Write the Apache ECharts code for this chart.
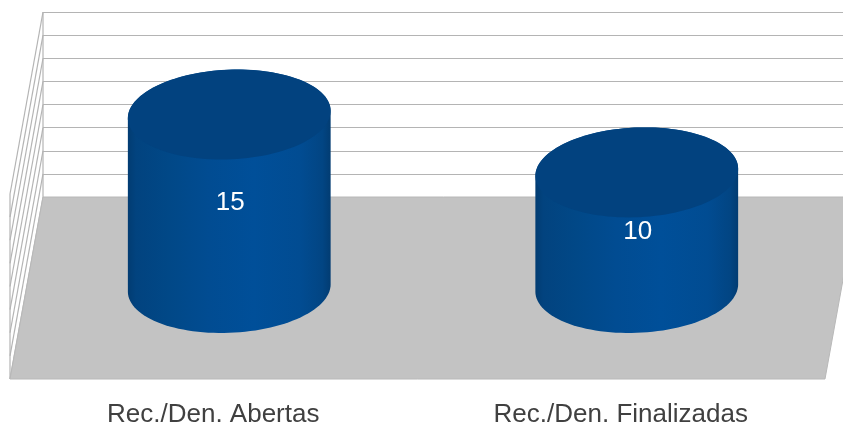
<!DOCTYPE html>
<html>
<head>
<meta charset="utf-8">
<script src="https://cdn.jsdelivr.net/npm/echarts@6/dist/echarts.min.js"></script>
<style>html,body{margin:0;padding:0;background:#fff}#c{width:843px;height:425px}</style>
</head>
<body>
<div id="c"></div>
<script>
const categories = ['Rec./Den. Abertas', 'Rec./Den. Finalizadas'];
const values = [15, 10];
const wallTicks = [0, 2, 4, 6, 8, 10, 12, 14, 16];

const DEPTH = [-33, 182];
const BAR_NUDGE = -1;
const RADIUS_RATIO = 0.248;
const RY = 45;
const GRID_COLOR = '#b4b4b4';
const FONT = '"Liberation Sans", Arial, sans-serif';
const chart = echarts.init(document.getElementById('c'), null, {renderer: 'canvas'});

function floorItem(params, api) {
  const cs = params.coordSys;
  const y = api.coord([0, 0])[1];
  return {
    type: 'polygon',
    shape: {points: [
      [cs.x, y], [cs.x + cs.width, y],
      [cs.x + cs.width + DEPTH[0], y + DEPTH[1]], [cs.x + DEPTH[0], y + DEPTH[1]]
    ]},
    style: {fill: '#c3c3c3', stroke: '#b8b8b8', lineWidth: 1}
  };
}

function wallItem(params, api) {
  const cs = params.coordSys;
  const v = api.value(0);
  const y = api.coord([0, v])[1];
  const children = [{
    type: 'line',
    shape: {x1: cs.x, y1: y, x2: cs.x + DEPTH[0], y2: y + DEPTH[1]},
    style: {stroke: GRID_COLOR, lineWidth: 1.2}
  }];
  if (v === 16) {
    children.push({
      type: 'line',
      shape: {x1: cs.x + DEPTH[0], y1: y + DEPTH[1], x2: cs.x + DEPTH[0], y2: cs.y + cs.height + DEPTH[1]},
      style: {stroke: GRID_COLOR, lineWidth: 1.2}
    });
    children.push({
      type: 'line',
      shape: {x1: cs.x, y1: cs.y, x2: cs.x, y2: cs.y + cs.height},
      style: {stroke: GRID_COLOR, lineWidth: 1.2}
    });
  }
  return {type: 'group', children};
}

// Ellipse sheared along the floor's slant, so the disc lies in the floor plane.
function ellipse(cx, cy, rx, ry, from, to, n) {
  const shear = ry * Math.abs(DEPTH[0]) / DEPTH[1];
  const pts = [];
  for (let i = 0; i <= n; i++) {
    const a = from + (to - from) * i / n;
    pts.push([cx + rx * Math.cos(a) - shear * Math.sin(a), cy + ry * Math.sin(a)]);
  }
  return pts;
}

function cylinderItem(params, api) {
  const idx = api.value(0);
  const val = api.value(1);
  const top = api.coord([idx, val]);
  const base = api.coord([idx, 0]);
  const band = api.size([1, 0])[0];
  const rx = band * RADIUS_RATIO;
  const cx = top[0] + DEPTH[0] / 2 + BAR_NUDGE;
  const topY = top[1] + DEPTH[1] / 2;
  const botY = base[1] + DEPTH[1] / 2;
  const shear = RY * Math.abs(DEPTH[0]) / DEPTH[1];
  const aRight = Math.atan(-shear / rx);
  const aLeft = aRight + Math.PI;
  const body = ellipse(cx, topY, rx, RY, aLeft, aRight + 2 * Math.PI, 60)
    .concat(ellipse(cx, botY, rx, RY, aRight, aLeft, 60));
  const side = {
    type: 'linear', x: 0, y: 0, x2: 1, y2: 0,
    colorStops: [
      {offset: 0, color: '#023c72'},
      {offset: 0.04, color: '#02437f'},
      {offset: 0.2, color: '#014887'},
      {offset: 0.4, color: '#014c92'},
      {offset: 0.62, color: '#004f99'},
      {offset: 0.85, color: '#014c92'},
      {offset: 0.96, color: '#024583'},
      {offset: 1, color: '#023c72'}
    ]
  };
  return {
    type: 'group',
    children: [
      {type: 'polygon', shape: {points: body}, style: {fill: side}},
      {type: 'polygon', shape: {points: ellipse(cx, topY, rx, RY, 0, 2 * Math.PI, 120)}, style: {fill: '#02427f'}},
      {type: 'text', style: {
        text: String(val), x: cx + 1, y: (topY + botY) / 2 + 2,
        fill: '#ffffff', font: '26px ' + FONT, textAlign: 'center', textVerticalAlign: 'middle'
      }}
    ]
  };
}

chart.setOption({
  animation: false,
  backgroundColor: '#ffffff',
  grid: [
    {left: 43, top: 12, width: 815, height: 185, outerBoundsMode: 'none'},
    {left: 9.5, top: 379, width: 815, height: 1, outerBoundsMode: 'none'}
  ],
  xAxis: [
    {type: 'category', gridIndex: 0, data: categories, axisLine: {show: false}, axisTick: {show: false}, axisLabel: {show: false}},
    {type: 'category', gridIndex: 1, data: categories, axisLine: {show: false}, axisTick: {show: false},
     axisLabel: {color: '#404040', fontSize: 26, fontFamily: FONT, margin: 22, interval: 0, hideOverlap: false}}
  ],
  yAxis: [
    {type: 'value', gridIndex: 0, min: 0, max: 16, interval: 2, axisLine: {show: false}, axisTick: {show: false}, axisLabel: {show: false},
     splitLine: {show: true, lineStyle: {color: GRID_COLOR, width: 1.2}}},
    {type: 'value', gridIndex: 1, show: false, splitLine: {show: false}}
  ],
  series: [
    {type: 'custom', xAxisIndex: 0, yAxisIndex: 0, z: 2, silent: true, data: wallTicks.map(v => [v]), encode: {y: 0}, renderItem: wallItem},
    {type: 'custom', xAxisIndex: 0, yAxisIndex: 0, z: 3, silent: true, data: [[0]], encode: {y: 0}, renderItem: floorItem},
    {type: 'custom', xAxisIndex: 0, yAxisIndex: 0, z: 4, silent: true, data: values.map((v, i) => [i, v]), encode: {x: 0, y: 1}, renderItem: cylinderItem}
  ]
});
</script>
</body>
</html>
